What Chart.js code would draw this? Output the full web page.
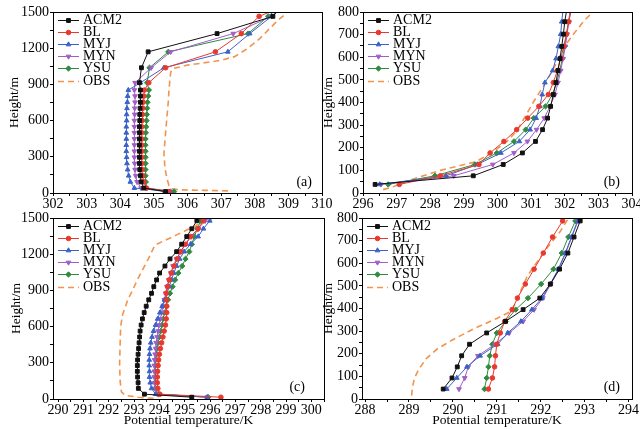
<!DOCTYPE html>
<html>
<head>
<meta charset="utf-8">
<script src="https://cdn.jsdelivr.net/npm/chart.js@4.4.1/dist/chart.umd.min.js"></script>
<style>
  html, body { margin: 0; padding: 0; background: #fff; width: 640px; height: 429px; overflow: hidden; }
  canvas { position: absolute; }
</style>
</head>
<body>
<canvas id="panelA" style="left:0px;top:0px"></canvas>
<canvas id="panelB" style="left:320px;top:0px"></canvas>
<canvas id="panelC" style="left:0px;top:205px"></canvas>
<canvas id="panelD" style="left:320px;top:205px"></canvas>
<script>
// ---- panel (a) ----
const heightsA = [12, 41, 92, 143, 194, 245, 296, 346, 397, 448, 499, 549, 600, 651, 702, 752, 803, 853, 914, 1038, 1170, 1321, 1464, 1610];
const acm2A = [305.35, 304.7, 304.62, 304.6, 304.58, 304.57, 304.57, 304.57, 304.57, 304.57, 304.57, 304.57, 304.58, 304.58, 304.59, 304.6, 304.6, 304.6, 304.57, 304.63, 304.83, 306.88, 308.54, 309.0];
const blA = [305.45, 304.78, 304.7, 304.67, 304.65, 304.64, 304.64, 304.64, 304.64, 304.64, 304.64, 304.64, 304.65, 304.66, 304.67, 304.68, 304.7, 304.72, 304.85, 305.35, 306.83, 307.6, 308.13, 309.4];
const myjA = [305.5, 304.42, 304.3, 304.25, 304.22, 304.2, 304.19, 304.18, 304.18, 304.18, 304.18, 304.18, 304.19, 304.19, 304.2, 304.21, 304.22, 304.24, 304.6, 305.3, 307.2, 307.85, 308.5, 309.1];
const mynA = [305.3, 304.62, 304.5, 304.46, 304.44, 304.43, 304.42, 304.42, 304.42, 304.42, 304.42, 304.42, 304.42, 304.43, 304.43, 304.44, 304.44, 304.42, 304.44, 304.92, 305.5, 307.36, 308.5, 309.05];
const ysuA = [305.6, 304.78, 304.76, 304.75, 304.75, 304.75, 304.75, 304.75, 304.75, 304.75, 304.76, 304.77, 304.78, 304.79, 304.8, 304.81, 304.83, 304.85, 304.8, 304.87, 305.43, 307.8, 308.4, 309.0];
const obsHeightsA = [18, 22, 26, 35, 60, 110, 200, 330, 500, 605, 760, 860, 1000, 1030, 1060, 1075, 1100, 1130, 1200, 1280, 1365, 1435, 1480, 1540];
const obsA = [307.2, 306.5, 305.8, 305.55, 305.45, 305.4, 305.33, 305.3, 305.35, 305.38, 305.43, 305.45, 305.5, 305.55, 306.0, 306.4, 307.0, 307.4, 307.8, 308.15, 308.45, 308.7, 308.9, 309.1];

// ---- panel (b) ----
const heightsB = [38, 76, 126, 177, 228, 280, 331, 383, 435, 488, 541, 594, 648, 702, 757, 812];
const acm2B = [296.36, 299.28, 300.17, 300.74, 301.13, 301.34, 301.49, 301.58, 301.66, 301.74, 301.8, 301.86, 301.91, 301.96, 302.0, 302.06];
const blB = [297.08, 298.3, 299.45, 299.78, 300.19, 300.57, 300.9, 301.23, 301.51, 301.66, 301.78, 301.88, 301.97, 302.05, 302.12, 302.2];
const myjB = [296.5, 298.47, 299.4, 300.1, 300.65, 300.97, 301.15, 301.26, 301.33, 301.41, 301.64, 301.74, 301.81, 301.88, 301.91, 301.95];
const mynB = [296.53, 298.7, 299.86, 300.49, 300.89, 301.16, 301.39, 301.56, 301.71, 301.8, 301.88, 301.95, 302.02, 302.07, 302.12, 302.18];
const ysuB = [296.75, 298.14, 299.33, 299.98, 300.49, 300.84, 301.08, 301.43, 301.63, 301.76, 301.85, 301.93, 302.0, 302.05, 302.11, 302.17];
const obsHeightsB = [15, 25, 57, 100, 138, 175, 230, 280, 345, 410, 480, 560, 620, 670, 710, 757, 795, 830];
const obsB = [296.6, 296.85, 297.4, 298.3, 299.35, 299.8, 300.3, 300.6, 300.85, 301.1, 301.4, 301.7, 301.9, 302.1, 302.3, 302.55, 302.8, 303.05];

// ---- panel (c) ----
const heightsC = [15, 40, 88, 135, 182, 229, 277, 324, 371, 418, 466, 514, 563, 613, 664, 716, 769, 822, 876, 931, 987, 1044, 1102, 1161, 1221, 1283, 1346, 1411, 1477, 1545];
const acm2C = [295.28, 293.41, 293.17, 293.16, 293.14, 293.13, 293.13, 293.14, 293.16, 293.18, 293.2, 293.22, 293.24, 293.28, 293.33, 293.4, 293.48, 293.58, 293.69, 293.78, 293.89, 294.01, 294.22, 294.42, 294.68, 294.88, 295.08, 295.28, 295.48, 295.73];
const blC = [296.43, 294.02, 293.94, 293.92, 293.92, 293.93, 293.95, 293.97, 294.0, 294.04, 294.09, 294.14, 294.19, 294.24, 294.27, 294.29, 294.29, 294.28, 294.27, 294.32, 294.39, 294.47, 294.58, 294.7, 294.83, 295.03, 295.23, 295.53, 295.74, 295.99];
const myjC = [295.89, 293.85, 293.69, 293.64, 293.61, 293.61, 293.6, 293.6, 293.61, 293.63, 293.66, 293.71, 293.77, 293.85, 293.93, 294.02, 294.11, 294.2, 294.3, 294.39, 294.48, 294.57, 294.68, 294.8, 294.98, 295.23, 295.53, 295.74, 295.99, 296.29];
const mynC = [295.89, 293.92, 293.85, 293.82, 293.8, 293.8, 293.8, 293.81, 293.83, 293.85, 293.87, 293.91, 293.95, 293.99, 294.04, 294.09, 294.15, 294.2, 294.25, 294.3, 294.37, 294.45, 294.54, 294.68, 294.85, 295.03, 295.26, 295.53, 295.81, 296.09];
const ysuC = [295.93, 293.97, 293.84, 293.83, 293.83, 293.83, 293.84, 293.86, 293.89, 293.91, 293.95, 294.0, 294.05, 294.1, 294.15, 294.2, 294.27, 294.34, 294.42, 294.52, 294.62, 294.75, 294.9, 295.03, 295.18, 295.28, 295.38, 295.5, 295.63, 295.84];
const obsHeightsC = [5, 15, 30, 60, 150, 300, 450, 600, 700, 820, 910, 1000, 1080, 1160, 1230, 1275, 1310, 1360, 1400, 1430, 1470, 1500, 1530];
const obsC = [293.77, 293.16, 292.65, 292.5, 292.45, 292.43, 292.45, 292.47, 292.55, 292.75, 292.96, 293.16, 293.36, 293.56, 293.72, 293.82, 294.17, 294.68, 295.08, 295.39, 295.69, 295.89, 296.09];

// ---- panel (d) ----
const heightsD = [44, 93, 142, 191, 242, 292, 343, 395, 446, 508, 574, 645, 716, 787, 860];
const acm2D = [289.78, 289.98, 290.1, 290.2, 290.38, 290.77, 291.2, 291.6, 291.98, 292.22, 292.43, 292.62, 292.76, 292.9, 293.05];
const blD = [290.81, 290.9, 290.95, 290.97, 291.0, 291.08, 291.18, 291.35, 291.47, 291.65, 291.85, 292.06, 292.27, 292.5, 292.72];
const myjD = [289.86, 290.09, 290.32, 290.62, 291.02, 291.25, 291.55, 291.8, 292.03, 292.22, 292.4, 292.56, 292.7, 292.84, 292.98];
const mynD = [290.14, 290.27, 290.35, 290.57, 290.96, 291.28, 291.6, 291.85, 292.05, 292.23, 292.41, 292.57, 292.71, 292.85, 292.99];
const ysuD = [290.72, 290.77, 290.81, 290.84, 290.9, 291.0, 291.2, 291.43, 291.71, 292.01, 292.29, 292.48, 292.63, 292.79, 292.95];
const obsHeightsD = [15, 50, 90, 130, 180, 222, 260, 310, 356, 385, 420, 480, 545, 600, 666, 739, 795, 830];
const obsD = [289.06, 289.08, 289.12, 289.22, 289.4, 289.65, 289.98, 290.47, 291.0, 291.3, 291.42, 291.55, 291.7, 291.9, 292.14, 292.44, 292.62, 292.72];

const SERIF = '"Liberation Serif", "Times New Roman", serif';

const looks = {
  ACM2: { color: '#111111', point: 'rect', radius: 2.7, rotation: 0 },
  BL:   { color: '#e8392f', point: 'circle', radius: 2.3, rotation: 0 },
  MYJ:  { color: '#3b62c8', point: 'triangle', radius: 2.7, rotation: 0 },
  MYN:  { color: '#a25ec8', point: 'triangle', radius: 2.7, rotation: 180 },
  YSU:  { color: '#2f8b40', point: 'rectRot', radius: 2.7, rotation: 0 },
  OBS:  { color: '#f2944d', dash: [6, 4] }
};

function profile(name, temps, heights) {
  const s = looks[name];
  return {
    label: name,
    data: temps.map((t, i) => ({ x: t, y: heights[i] })),
    showLine: true,
    borderColor: s.color,
    backgroundColor: s.color,
    borderWidth: s.dash ? 1.6 : 1,
    borderDash: s.dash || [],
    pointStyle: s.point || false,
    pointRadius: s.dash ? 0 : s.radius,
    pointRotation: s.rotation || 0,
    pointBorderWidth: 1,
    tension: 0
  };
}

function decor(letter, letterDx, letterDy) {
  return {
    id: 'decor' + letter,
    afterDatasetsDraw(chart) {
      const ctx = chart.ctx, a = chart.chartArea;
      ctx.save();
      ctx.font = '14px ' + SERIF;
      ctx.textBaseline = 'middle';
      chart.data.datasets.forEach((ds, i) => {
        const y = Math.round(a.top + 8 + i * 12.1) + 0.5;
        const x0 = a.left + 5, x1 = a.left + 26;
        ctx.strokeStyle = ds.borderColor;
        ctx.lineWidth = ds.borderWidth;
        ctx.setLineDash(ds.borderDash);
        ctx.beginPath();
        ctx.moveTo(x0, y);
        ctx.lineTo(x1, y);
        ctx.stroke();
        ctx.setLineDash([]);
        if (ds.pointRadius > 0) {
          ctx.fillStyle = ds.backgroundColor;
          ctx.lineWidth = 1;
          Chart.helpers.drawPoint(ctx, {
            pointStyle: ds.pointStyle, radius: ds.pointRadius,
            rotation: ds.pointRotation, borderWidth: 1
          }, (x0 + x1) / 2, y);
        }
        ctx.fillStyle = '#000';
        ctx.textAlign = 'left';
        ctx.fillText(ds.label, a.left + 30, y);
      });
      ctx.textAlign = 'right';
      ctx.fillText(letter, a.right - letterDx, a.bottom - letterDy);
      ctx.strokeStyle = '#000';
      ctx.lineWidth = 1;
      const l = Math.round(a.left) + 0.5, t = Math.round(a.top) + 0.5;
      ctx.strokeRect(l, t, Math.round(a.right) - Math.round(a.left), Math.round(a.bottom) - Math.round(a.top));
      ctx.restore();
    }
  };
}

function drawPanel(id, p) {
  const canvas = document.getElementById(id);
  canvas.width = p.w;
  canvas.height = p.h;
  const tickFont = { family: SERIF, size: 14 };
  return new Chart(canvas, {
    type: 'scatter',
    data: {
      datasets: [
        profile('ACM2', p.acm2, p.heights),
        profile('BL', p.bl, p.heights),
        profile('MYJ', p.myj, p.heights),
        profile('MYN', p.myn, p.heights),
        profile('YSU', p.ysu, p.heights),
        profile('OBS', p.obs, p.obsHeights)
      ]
    },
    options: {
      responsive: false,
      animation: false,
      devicePixelRatio: 1,
      layout: { padding: { left: 0, top: p.top, right: p.w - p.right, bottom: 0 } },
      plugins: { legend: { display: false }, tooltip: { enabled: false } },
      scales: {
        x: {
          type: 'linear', min: p.xMin, max: p.xMax,
          afterFit(s) { s.height = p.h - p.bottom; },
          border: { display: false },
          grid: { drawOnChartArea: false, color: '#000', tickLength: 3 },
          ticks: {
            stepSize: 0.5, maxTicksLimit: 1000, autoSkip: false, includeBounds: false,
            maxRotation: 0, padding: 0, color: '#000', font: tickFont,
            callback: v => Number.isInteger(v) ? String(v) : ''
          },
          title: p.xTitle
            ? { display: true, text: 'Potential temperature/K', color: '#000', font: { family: SERIF, size: 13.5 }, padding: { top: 0, bottom: 0 } }
            : { display: false }
        },
        y: {
          type: 'linear', min: 0, max: p.yMax,
          afterFit(s) { s.width = p.left; },
          border: { display: false },
          grid: { drawOnChartArea: false, color: '#000', tickLength: 3 },
          ticks: {
            stepSize: p.yStep / 2, maxTicksLimit: 1000, autoSkip: false,
            padding: 1, color: '#000', font: tickFont,
            callback: v => v % p.yStep === 0 ? String(v) : ''
          },
          title: { display: true, text: 'Height/m', color: '#000', font: { family: SERIF, size: 13.5 }, padding: { top: p.yTitlePad, bottom: 0 } }
        }
      }
    },
    plugins: [decor(p.letter, p.letterDx, p.letterDy)]
  });
}

drawPanel('panelA', {
  w: 336, h: 215, left: 53, right: 322, top: 12, bottom: 193,
  xMin: 302, xMax: 310, yMax: 1500, yStep: 300, xTitle: false, yTitlePad: 6,
  letter: '(a)', letterDx: 10, letterDy: 11,
  heights: heightsA, acm2: acm2A, bl: blA, myj: myjA, myn: mynA, ysu: ysuA,
  obs: obsA, obsHeights: obsHeightsA
});
drawPanel('panelB', {
  w: 330, h: 215, left: 43, right: 312, top: 12, bottom: 193,
  xMin: 296, xMax: 304, yMax: 800, yStep: 100, xTitle: false, yTitlePad: 0,
  letter: '(b)', letterDx: 12, letterDy: 11,
  heights: heightsB, acm2: acm2B, bl: blB, myj: myjB, myn: mynB, ysu: ysuB,
  obs: obsB, obsHeights: obsHeightsB
});
drawPanel('panelC', {
  w: 336, h: 224, left: 53, right: 324, top: 13, bottom: 194,
  xMin: 289.8, xMax: 300.5, yMax: 1500, yStep: 300, xTitle: true, yTitlePad: 8,
  letter: '(c)', letterDx: 19, letterDy: 12,
  heights: heightsC, acm2: acm2C, bl: blC, myj: myjC, myn: mynC, ysu: ysuC,
  obs: obsC, obsHeights: obsHeightsC
});
drawPanel('panelD', {
  w: 330, h: 224, left: 42, right: 312, top: 13, bottom: 194,
  xMin: 287.93, xMax: 294.08, yMax: 800, yStep: 100, xTitle: true, yTitlePad: 0,
  letter: '(d)', letterDx: 12, letterDy: 12,
  heights: heightsD, acm2: acm2D, bl: blD, myj: myjD, myn: mynD, ysu: ysuD,
  obs: obsD, obsHeights: obsHeightsD
});
</script>
</body>
</html>
